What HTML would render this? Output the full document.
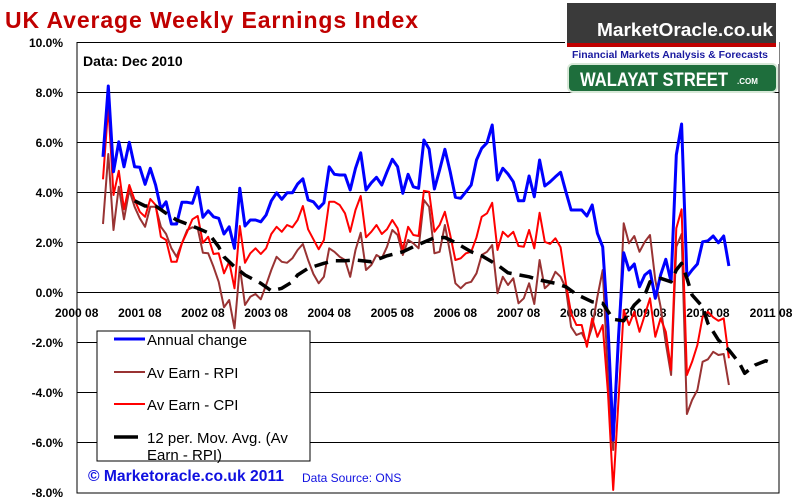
<!DOCTYPE html>
<html><head><meta charset="utf-8"><style>
html,body{margin:0;padding:0;background:#fff;}
svg{display:block;font-family:"Liberation Sans",Arial,sans-serif;}
</style></head><body>
<svg id="chart" width="799" height="504" viewBox="0 0 799 504">
<rect x="0" y="0" width="799" height="504" fill="#fff"/>
<text x="5" y="28" font-size="23" font-weight="bold" fill="#C00000" textLength="413">UK Average Weekly Earnings Index</text>
<g id="grid"></g>
<rect x="77" y="42.5" width="702" height="450.5" fill="none" stroke="#000" stroke-width="1"/>
<g id="ylabels"></g>
<g id="xlabels"></g>
<g id="series"></g>
<text x="83" y="66" font-size="14" font-weight="bold" fill="#000">Data: Dec 2010</text>
<g>
 <rect x="565" y="2" width="214" height="62" fill="#fff"/>
 <rect x="567" y="3" width="209" height="41" fill="#3a3a3a"/>
 <rect x="567" y="43" width="209" height="4" fill="#c00000"/>
 <text x="597" y="36" font-size="18" font-weight="bold" fill="#fff" textLength="176" lengthAdjust="spacingAndGlyphs">MarketOracle.co.uk</text>
 <text x="572" y="58" font-size="10" font-weight="bold" fill="#1a1aa0" textLength="196" lengthAdjust="spacingAndGlyphs">Financial Markets Analysis &amp; Forecasts</text>
 <rect x="568" y="64" width="209" height="28" rx="5" fill="#1e6e3c" stroke="#d8e8d8" stroke-width="2"/>
 <text x="580" y="86" font-size="19" font-weight="bold" fill="#fff" textLength="148" lengthAdjust="spacingAndGlyphs">WALAYAT STREET</text>
 <text x="737" y="84" font-size="8" font-weight="bold" fill="#fff">.COM</text>
</g>
<g>
 <rect x="97" y="331" width="213" height="130" fill="#fff" stroke="#000" stroke-width="1"/>
 <line x1="114" y1="339" x2="145" y2="339" stroke="#0000ff" stroke-width="3"/>
 <text x="147" y="345" font-size="15" fill="#000">Annual change</text>
 <line x1="114" y1="372" x2="145" y2="372" stroke="#993333" stroke-width="2"/>
 <text x="147" y="378" font-size="15" fill="#000">Av Earn - RPI</text>
 <line x1="114" y1="404" x2="145" y2="404" stroke="#ff0000" stroke-width="2"/>
 <text x="147" y="410" font-size="15" fill="#000">Av Earn - CPI</text>
 <line x1="114" y1="437" x2="138" y2="437" stroke="#000" stroke-width="3.5"/>
 <text x="147" y="443" font-size="15" fill="#000">12 per. Mov. Avg. (Av</text>
 <text x="147" y="460" font-size="15" fill="#000">Earn - RPI)</text>
</g>
<text x="88" y="481" font-size="16" font-weight="bold" fill="#1010e0" textLength="196" lengthAdjust="spacingAndGlyphs">© Marketoracle.co.uk 2011</text>
<text x="302" y="482" font-size="12" fill="#1010e0">Data Source: ONS</text>
</svg>
<script>
const yTicks = [10, 8, 6, 4, 2, 0, -2, -4, -6, -8];
const xTickLabels = ["2000 08","2001 08","2002 08","2003 08","2004 08","2005 08","2006 08","2007 08","2008 08","2009 08","2010 08","2011 08"];
const annualChange = [5.43,8.26,4.83,6.03,5.03,6.01,5.03,5.01,4.33,4.97,4.3,3.34,3.63,2.74,2.74,3.61,3.61,3.57,4.21,3.01,3.27,3.03,2.97,2.34,2.63,1.77,4.17,2.66,2.9,2.9,2.83,3.1,3.67,3.99,3.73,3.99,3.99,4.34,4.55,3.7,3.63,3.37,3.59,5.03,
4.73,4.7,4.7,4.1,4.97,5.59,4.1,4.39,4.61,4.3,4.83,5.33,5.03,3.97,4.73,4.23,4.17,6.1,5.74,4.14,4.9,5.73,4.83,3.81,3.77,4.03,4.3,5.3,5.77,5.99,6.7,4.5,4.97,4.74,4.43,3.67,3.67,4.66,3.83,5.3,4.26,4.43,4.63,4.81,4.03,3.3,3.3,
3.3,3.06,3.5,2.37,1.83,-1.37,-5.9,-1.77,1.59,0.9,1.14,0.23,0.7,0.87,-0.23,0.7,1.33,0.43,5.5,6.74,0.63,0.9,1.14,2.03,2.07,2.26,1.99,2.26,1.06];
const avEarnCPI = [4.53,7.46,3.9,4.87,3.33,4.3,3.7,3.23,3.03,3.74,3.5,2.23,2.1,1.23,1.23,1.97,2.43,2.93,3.06,1.99,2.23,1.54,1.57,0.77,1.23,0.17,2.66,1.19,1.57,1.77,1.54,1.77,2.34,2.63,2.43,2.7,2.61,2.9,3.46,2.53,2.13,1.73,2.1,3.63,
3.63,3.5,3.17,2.43,3.3,3.86,2.21,2.43,2.7,2.34,2.53,2.9,2.57,1.7,2.63,2.3,2.26,4.07,4.03,2.43,2.7,3.23,2.3,1.3,1.37,1.57,1.63,2.21,3.03,3.17,3.59,1.7,2.43,2.23,2.43,1.86,1.83,2.5,1.77,3.19,2.03,1.94,2.17,1.81,0.37,-0.83,-1.3,
-1.3,-2.17,-1.03,-1.77,-1.3,-4.03,-7.9,-4.3,-0.7,-1.3,-0.77,-1.57,-0.9,-0.23,-1.77,-1.03,-1.57,-3.1,2.57,3.33,-3.3,-2.77,-2.1,-0.97,-0.77,-0.99,-1.13,-1.03,-2.63];
const avEarnRPI = [2.74,5.54,2.5,4.23,2.93,4.1,3.43,2.97,2.63,3.43,3.43,2.63,2.34,1.77,1.43,1.97,2.5,2.61,2.57,1.59,1.57,1.03,0.43,-0.59,-0.3,-1.43,1.03,-0.5,-0.17,-0.06,-0.27,0.3,0.9,1.43,1.23,1.19,1.37,1.7,1.94,1.3,0.74,0.37,0.63,1.77,
1.63,1.43,1.3,0.63,1.7,2.39,0.9,1.1,1.5,1.37,1.83,2.5,2.3,1.5,2.1,1.97,1.77,3.7,3.43,1.57,1.63,2.7,1.57,0.37,0.17,0.37,0.43,0.77,1.5,1.63,1.9,-0.03,0.63,0.3,0.57,-0.43,-0.23,0.37,-0.46,1.3,0.17,0.37,0.83,0.63,0.17,-1.37,-1.7,
-1.61,-2.03,-1.37,-0.17,0.9,-3.37,-6.3,-2.03,2.77,1.97,2.26,1.63,2.03,2.3,0.5,-0.57,-2.03,-3.3,1.83,2.34,-4.86,-4.3,-3.9,-2.77,-2.67,-2.37,-2.5,-2.46,-3.7];
const maMonths = [6,8,10,12,14,16,18,20,22,23,25,27,30,32,34,36,37,39,42,44,46,48,51,54,57,59,62,63,65,67,70,72,75,77,81,83,86,88,90,93,95,97,99,101,103,104,106,108,109,110,111,112,114,115,117,119,121,122,124,126,127];
const maValues = [3.67,3.46,3.46,3.17,2.9,2.74,2.57,2.39,1.83,1.43,1.03,0.7,0.37,0.07,0.17,0.43,0.7,0.97,1.17,1.27,1.27,1.3,1.23,1.47,1.63,1.83,2.1,2.19,2.2,2.0,1.63,1.47,1.1,0.79,0.63,0.5,0.37,0.23,-0.07,-0.37,-0.43,-1.07,-1.13,-0.5,-0.1,0.43,0.57,0.43,0.9,1.17,0.57,-0.1,-0.57,-1.23,-1.9,-2.3,-2.83,-3.23,-2.9,-2.73,-2.81];

const NS = "http://www.w3.org/2000/svg";
function xScale(i){ return 103 + i * 5.26; }
function yScale(v){ return 292.5 - v * 25; }

const grid = document.getElementById('grid');
const yl = document.getElementById('ylabels');
yTicks.forEach(function(t){
  const y = yScale(t);
  if (t < 10 && t > -8) {
    const ln = document.createElementNS(NS,'line');
    ln.setAttribute('x1',77); ln.setAttribute('x2',779);
    ln.setAttribute('y1',y); ln.setAttribute('y2',y);
    ln.setAttribute('stroke','#000'); ln.setAttribute('stroke-width','1');
    
    
    grid.appendChild(ln);
  }
  const tx = document.createElementNS(NS,'text');
  tx.setAttribute('x',63); tx.setAttribute('y',y+4.5);
  tx.setAttribute('text-anchor','end'); tx.setAttribute('font-size','12'); tx.setAttribute('font-weight','bold');
  tx.textContent = t.toFixed(1) + '%';
  
  
  yl.appendChild(tx);
});
const xl = document.getElementById('xlabels');
xTickLabels.forEach(function(lab, k){
  const tx = document.createElementNS(NS,'text');
  tx.setAttribute('x', xScale(-5 + k*12));
  tx.setAttribute('y', 317);
  tx.setAttribute('text-anchor','middle'); tx.setAttribute('font-size','12'); tx.setAttribute('font-weight','bold');
  tx.textContent = lab;
  
  
  xl.appendChild(tx);
});

const sg = document.getElementById('series');
function addLine(vals, idx, color, w, name, dash){
  const pts = vals.map(function(v,k){ return xScale(idx ? idx[k] : k).toFixed(1)+','+yScale(v).toFixed(1); }).join(' ');
  const pl = document.createElementNS(NS,'polyline');
  pl.setAttribute('points', pts);
  pl.setAttribute('fill','none'); pl.setAttribute('stroke',color); pl.setAttribute('stroke-width',w);
  pl.setAttribute('stroke-linejoin','round');
  if (dash) pl.setAttribute('stroke-dasharray', dash);
  
  
  sg.appendChild(pl);
}
addLine(avEarnRPI, null, '#993333', 2, 'series-av-earn-rpi');
addLine(avEarnCPI, null, '#ff0000', 2, 'series-av-earn-cpi');
addLine(annualChange, null, '#0000ff', 3, 'series-annual-change');
addLine(maValues, maMonths, '#000', 3.5, 'series-moving-average', '14 8');
</script>
</body></html>
